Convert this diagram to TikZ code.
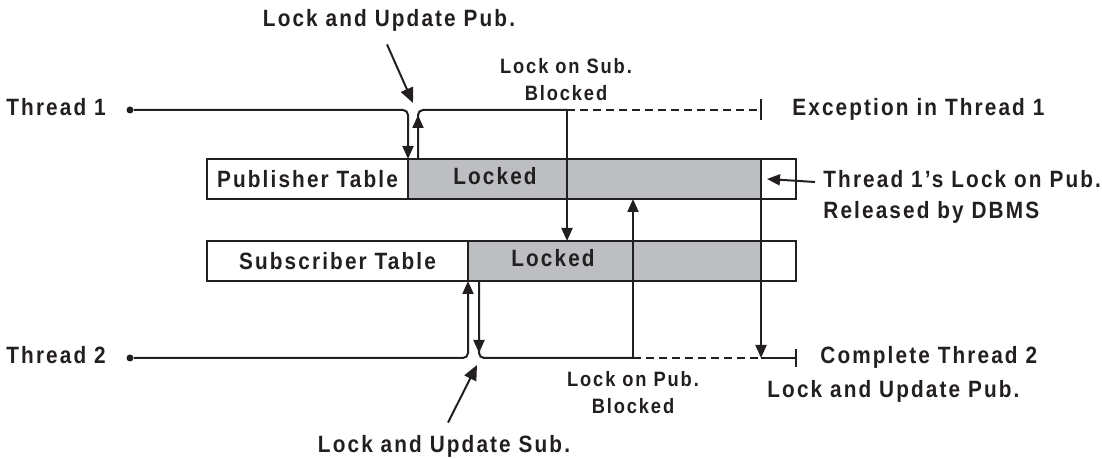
\documentclass[tikz,border=0pt]{standalone}
\usepackage{fontspec}
\setmainfont{Liberation Sans}[FakeStretch=0.88, LetterSpace=9]
\usetikzlibrary{positioning,arrows.meta}
\definecolor{lockgray}{RGB}{189,190,193}
\definecolor{ink}{RGB}{35,31,32}

\begin{document}
\begin{tikzpicture}[x=0.5pt, y=-0.5pt, ink,
  wire/.style={line width=1pt},
  flow/.style={wire, -{Triangle[length=6.5pt,width=5.5pt]}},
  lbl/.style={inner sep=1pt, text height=8.5pt, text depth=2.5pt, font=\fontsize{11.8}{13.5}\selectfont\bfseries},
  note/.style={inner sep=1pt, align=center, font=\fontsize{10.4}{13.5}\selectfont\bfseries},
  tbl/.style={draw, line width=1.1pt, outer sep=0pt, minimum height=20pt, inner sep=0pt, font=\fontsize{11.8}{13.5}\selectfont\bfseries},
  tdot/.style={circle, fill, inner sep=0pt, minimum size=3.5pt}]
  \useasboundingbox (0,0) rectangle (1102,459);

  % Tables
  \node[tbl, minimum width=100.5pt, anchor=west] (pubname) at (207,179) {Publisher Table};
  \node[tbl, fill=lockgray, minimum width=176.5pt, right=0pt of pubname] (publock) {};
  \node[tbl, minimum width=17.5pt, right=0pt of publock] (pubend) {};
  \node[lbl] (publbl) at (495,179) {Locked};

  \node[tbl, minimum width=130.5pt, anchor=west] (subname) at (207,261) {Subscriber Table};
  \node[tbl, fill=lockgray, minimum width=146.5pt, right=0pt of subname] (sublock) {};
  \node[tbl, minimum width=17.5pt, right=0pt of sublock] (subend) {};
  \node[lbl] (sublbl) at (553,261) {Locked};

  % Threads
  \node[tdot] (t1dot) at (130,110) {};
  \node[lbl, left=9pt of t1dot] (t1) {Thread 1};
  \node[tdot] (t2dot) at (130,358) {};
  \node[lbl, left=9pt of t2dot] (t2) {Thread 2};

  \coordinate (t1blk) at (567,110);
  \coordinate (t1end) at (publock.north east |- t1dot);
  \coordinate (t2blk) at (633,358);
  \coordinate (t2rel) at (publock.south east |- t2dot);
  \coordinate (t2end) at (subend.east |- t2dot);

  % Thread 1
  \draw[flow, rounded corners=2.5pt] (t1dot) -| (publock.north west);
  \draw[flow] ([xshift=5pt]publock.north west) -- ++(0,-44);
  \draw[wire, rounded corners=2.5pt] ([xshift=5pt]publock.north west) |- (t1blk);
  \draw[wire, dashed, dash pattern=on 4pt off 2.5pt] (t1blk) -- (t1end);
  \draw[wire] ([yshift=5.5pt]t1end) -- ([yshift=-5pt]t1end);
  \draw[flow] (t1blk) -- (t1blk |- sublock.north);

  % Thread 2
  \draw[flow, rounded corners=2.5pt] (t2dot) -| (sublock.south west);
  \draw[flow] ([xshift=5.5pt]sublock.south west) -- ++(0,72);
  \draw[wire, rounded corners=2.5pt] ([xshift=5.5pt]sublock.south west) |- (t2blk);
  \draw[wire, dashed, dash pattern=on 4pt off 2.5pt] (t2blk) -- (t2rel);
  \draw[wire] (t2rel) -- (t2end);
  \draw[wire] ([yshift=4.5pt]t2end) -- ([yshift=-4.5pt]t2end);
  \draw[flow] (t2blk) -- (t2blk |- publock.south);
  \draw[flow] (publock.south east) -- (t2rel);

  % Labels
  \node[lbl] (lupub) at (389,21) {Lock and Update Pub.};
  \coordinate (t1notch) at (413,103);
  \draw[flow, -{Triangle[length=7.5pt,width=6.5pt]}] ([xshift=-1pt,yshift=-5pt]lupub.south) -- (t1notch);

  \node[note] (subblk) at (566,80) {Lock on Sub.\\Blocked};
  \node[lbl, right=14.5pt of t1end] (exc) {Exception in Thread 1};

  \node[lbl, anchor=west] (relnote) at (821,182) {Thread 1's Lock on Pub.};
  \node[lbl, below=2pt of relnote.south west, anchor=north west] (reldbms) {Released by DBMS};
  \draw[flow] ([xshift=-3pt]relnote.west) -- ([xshift=3pt]pubend.west);

  \node[note] (pubblk) at (633,393) {Lock on Pub.\\Blocked};
  \node[lbl, right=11pt of t2end] (done) {Complete Thread 2};
  \node[lbl, anchor=west] (lupub2) at (765,392) {Lock and Update Pub.};

  \node[lbl] (lusub) at (444,446) {Lock and Update Sub.};
  \coordinate (t2notch) at (477,365);
  \draw[flow, -{Triangle[length=7.5pt,width=6.5pt]}] ([xshift=2pt,yshift=5pt]lusub.north) -- (t2notch);
\end{tikzpicture}
\end{document}
